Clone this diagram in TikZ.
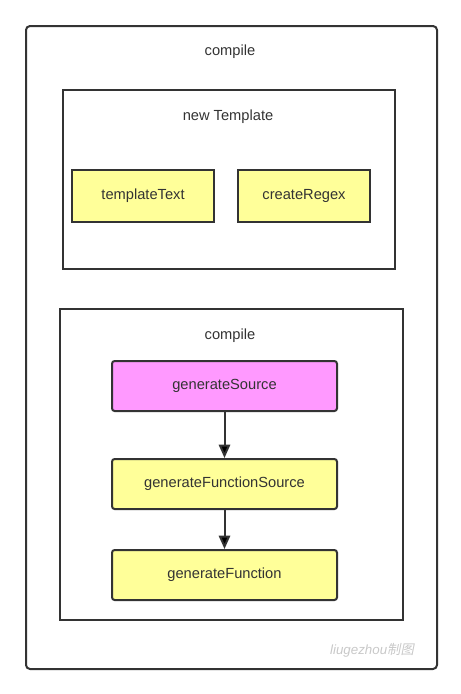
\documentclass[tikz,border=0pt]{standalone}
\usepackage{fontspec}
\setmainfont{Liberation Sans}
\newfontfamily\cjk[FakeSlant=0.2]{Noto Sans CJK SC}
\usepackage{tikz}
\usetikzlibrary{positioning, arrows.meta}

\definecolor{edgegray}{HTML}{333333}
\definecolor{boxyellow}{HTML}{FFFF99}
\definecolor{boxpink}{HTML}{FF99FF}
\definecolor{markgray}{HTML}{C8C8C8}

\tikzset{
  frame/.style={draw=edgegray, line width=1.5pt, inner sep=0pt},
  stepbox/.style={draw=edgegray, line width=1.5pt, fill=boxyellow,
    minimum width=168.75pt, minimum height=37.5pt, rounded corners=2pt},
  smallbox/.style={draw=edgegray, line width=1.5pt, fill=boxyellow,
    minimum height=39pt},
  title/.style={text=edgegray},
}

\begin{document}
\begin{tikzpicture}[x=0.75pt, y=-0.75pt, font=\fontsize{11}{13}\selectfont,
    text=edgegray, node distance=36pt]
  \useasboundingbox (0,0) rectangle (461,694);

  % outer frame
  \node[frame, rounded corners=3pt, anchor=north west,
    minimum width=308.25pt, minimum height=482.25pt] (outer) at (25,25) {};
  \node[title] (outer_t) at (230,52) {compile};

  % new Template
  \node[frame, anchor=north west, minimum width=249pt, minimum height=134.25pt]
    (tmpl) at (62,89) {};
  \node[title] (tmpl_t) at (228,117) {new Template};
  \node[smallbox, minimum width=106.5pt] (text) at (143,196) {templateText};
  \node[smallbox, minimum width=99pt] (regex) at (304,196) {createRegex};

  % compile
  \node[frame, anchor=north west, minimum width=257.25pt, minimum height=233.25pt]
    (comp) at (59,308) {};
  \node[title] (comp_t) at (230,336) {compile};
  \node[stepbox, fill=boxpink] (gen_src) at (224.5,386) {generateSource};
  \node[stepbox] (gen_fsrc) [below=34.5pt of gen_src] {generateFunctionSource};
  \node[stepbox] (gen_fn) [below=29.25pt of gen_fsrc] {generateFunction};

  \path[-{Triangle[length=10pt, width=8.5pt]}, draw=edgegray, line width=1.5pt]
    (gen_src) edge (gen_fsrc)
    (gen_fsrc) edge (gen_fn);

  % watermark
  \node[text=markgray, font=\fontsize{10}{12}\selectfont\itshape] (mark)
    at (372,650) {liugezhou{\cjk 制图}};
\end{tikzpicture}
\end{document}
